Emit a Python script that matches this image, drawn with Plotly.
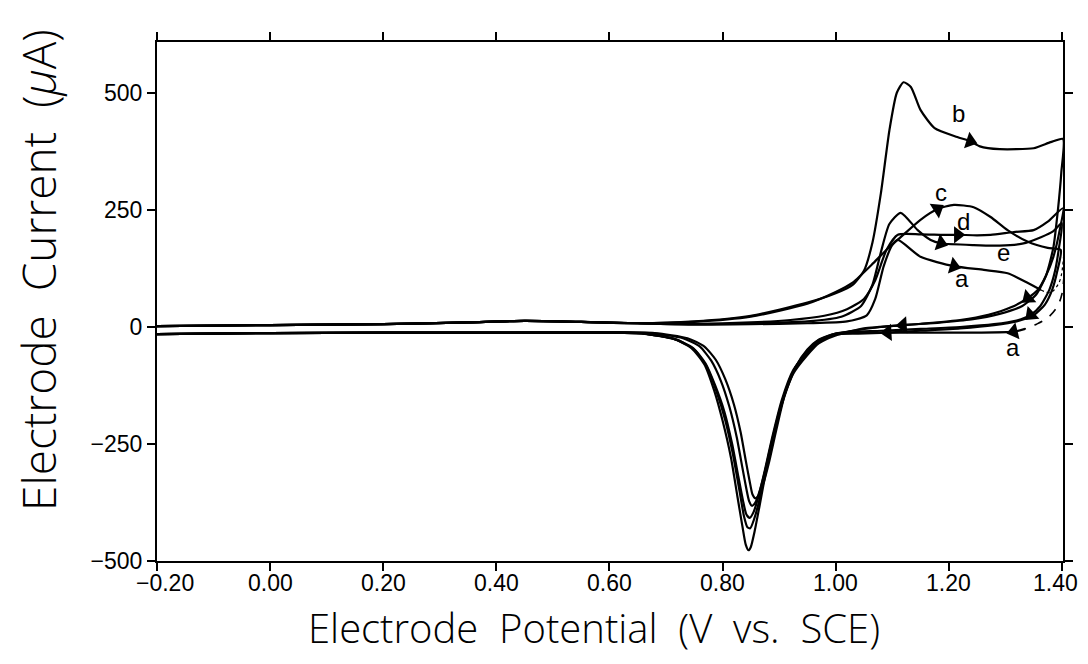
import math
import plotly.graph_objects as go

# ---------------- data ----------------
base_fwd_x = [-0.20, 0.00, 0.20, 0.35, 0.45, 0.55, 0.65]
base_fwd_y = [2, 4, 6, 10, 13, 11, 8]
base_rev_x = [0.40, 0.20, 0.00, -0.20]
base_rev_y = [-12, -12, -13, -15]

# curve b
b_fwd_x = [0.75, 0.85, 0.95, 1.00, 1.03, 1.05, 1.065, 1.08, 1.095, 1.108, 1.12, 1.133, 1.15, 1.175, 1.215, 1.238, 1.255, 1.29, 1.35, 1.38, 1.402]
b_fwd_y = [12, 24, 52, 72, 90, 120, 180, 286, 420, 500, 523, 513, 464, 425, 406, 397, 386, 380, 382, 395, 402]
b_rtop_x = [1.399, 1.393, 1.385, 1.372, 1.355, 1.33, 1.29, 1.24, 1.18, 1.119, 1.05]
b_rtop_y = [330, 250, 170, 110, 70, 45, 28, 16, 9, 4, -3]
b_peak_x = [1.00, 0.97, 0.95, 0.925, 0.905, 0.888, 0.875, 0.865, 0.857, 0.850, 0.846, 0.841, 0.835, 0.826, 0.815, 0.80, 0.785, 0.768, 0.745, 0.713, 0.66, 0.60]
b_peak_y = [-18, -35, -60, -100, -165, -245, -320, -385, -435, -470, -477, -465, -425, -360, -280, -200, -135, -80, -45, -25, -14, -12]

# curve c
c_fwd_x = [0.75, 0.85, 0.95, 1.00, 1.03, 1.067, 1.09, 1.115, 1.15, 1.18, 1.209, 1.244, 1.274, 1.304, 1.34, 1.375, 1.398]
c_fwd_y = [11, 22, 50, 75, 95, 137, 165, 192, 229, 252, 261, 256, 235, 207, 182, 169, 165]
c_rtop_x = [1.392, 1.383, 1.37, 1.35, 1.32, 1.28, 1.22, 1.15, 1.092, 1.04]
c_rtop_y = [120, 80, 48, 25, 12, 4, -3, -8, -12, -14]
c_peak_x = [1.00, 0.97, 0.95, 0.925, 0.905, 0.888, 0.875, 0.865, 0.856, 0.849, 0.844, 0.838, 0.83, 0.818, 0.805, 0.79, 0.772, 0.75, 0.718, 0.66, 0.60]
c_peak_y = [-16, -32, -56, -95, -160, -240, -310, -370, -410, -430, -428, -405, -350, -270, -200, -140, -85, -48, -27, -14, -12]

# curve d
d_fwd_x = [0.75, 0.85, 0.92, 0.98, 1.02, 1.05, 1.07, 1.09, 1.11, 1.15, 1.19, 1.216, 1.25, 1.274, 1.315, 1.35, 1.375, 1.402]
d_fwd_y = [7, 10, 15, 24, 38, 60, 100, 165, 197, 198, 197, 197, 196, 197, 203, 207, 225, 254]
d_rtop_x = [1.395, 1.385, 1.372, 1.358, 1.34, 1.31, 1.27, 1.22, 1.15, 1.08, 1.03]
d_rtop_y = [200, 150, 110, 80, 62, 42, 26, 15, 7, 0, -8]
d_peak_x = [1.00, 0.97, 0.95, 0.925, 0.905, 0.888, 0.875, 0.864, 0.855, 0.848, 0.842, 0.836, 0.828, 0.817, 0.803, 0.787, 0.77, 0.748, 0.716, 0.66, 0.60]
d_peak_y = [-15, -30, -54, -92, -155, -235, -305, -360, -395, -408, -400, -370, -320, -250, -180, -125, -78, -45, -26, -14, -12]

# curve e
e_fwd_x = [0.75, 0.85, 0.95, 1.01, 1.045, 1.065, 1.08, 1.095, 1.115, 1.145, 1.168, 1.186, 1.244, 1.29, 1.33, 1.363, 1.385, 1.40]
e_fwd_y = [6, 8, 12, 22, 45, 90, 160, 220, 244, 207, 186, 179, 175, 174, 178, 192, 205, 222]
e_rtop_x = [1.395, 1.388, 1.378, 1.362, 1.345, 1.32, 1.28, 1.22, 1.15, 1.08, 1.03]
e_rtop_y = [170, 120, 80, 45, 26, 14, 6, 0, -4, -8, -10]
e_peak_x = [1.00, 0.97, 0.95, 0.928, 0.908, 0.892, 0.878, 0.867, 0.858, 0.852, 0.847, 0.842, 0.835, 0.825, 0.812, 0.797, 0.78, 0.76, 0.73, 0.67, 0.60]
e_peak_y = [-14, -28, -50, -88, -150, -225, -295, -345, -375, -382, -372, -345, -300, -235, -170, -115, -72, -42, -24, -13, -11]

# curve a
a_fwd_x = [0.75, 0.85, 0.95, 1.02, 1.055, 1.07, 1.085, 1.10, 1.11, 1.15, 1.209, 1.262, 1.304, 1.34, 1.363]
a_fwd_y = [5, 6, 8, 12, 25, 60, 130, 175, 186, 150, 130, 122, 115, 94, 79]
a_dash1_x = [1.363, 1.38, 1.395, 1.403, 1.405, 1.405]
a_dash1_y = [79, 74, 95, 150, 250, 380]
a_dash2_x = [1.405, 1.40, 1.39, 1.375, 1.355, 1.335]
a_dash2_y = [150, 70, 40, 20, 6, -4]
a_rtop_x = [1.335, 1.315, 1.25, 1.15, 1.05]
a_rtop_y = [-4, -10, -12, -12, -12]
a_peak_x = [1.00, 0.97, 0.95, 0.93, 0.91, 0.895, 0.882, 0.872, 0.864, 0.858, 0.853, 0.848, 0.841, 0.832, 0.82, 0.805, 0.788, 0.768, 0.738, 0.68, 0.60]
a_peak_y = [-14, -27, -48, -84, -145, -220, -290, -335, -360, -366, -358, -330, -285, -225, -165, -112, -70, -42, -24, -13, -11]

# arrow heads: (curve, branch, x of the head point)
arrows = [("b", "fwd", 1.238), ("c", "fwd", 1.18), ("d", "fwd", 1.216),
          ("e", "fwd", 1.186), ("a", "fwd", 1.209),
          ("d", "rtop", 1.34), ("e", "rtop", 1.345), ("b", "rtop", 1.119),
          ("c", "rtop", 1.092), ("a", "rtop", 1.315)]

# curve letter labels (x, y)
labels = [("b", 1.218, 457), ("c", 1.186, 288), ("d", 1.226, 226),
          ("e", 1.297, 160), ("a", 1.223, 103), ("a", 1.313, -43)]

x_ticks = [-0.20, 0.00, 0.20, 0.40, 0.60, 0.80, 1.00, 1.20, 1.40]
x_ticktext = ["\u22120.20", "0.00", "0.20", "0.40", "0.60", "0.80", "1.00", "1.20", "1.40"]
y_ticks = [-500, -250, 0, 250, 500]
y_ticktext = ["\u2212500", "\u2212250", "0", "250", "500"]
x_range = [-0.20, 1.402]
y_range = [-500, 609]

x_title = "Electrode\u00a0\u00a0Potential\u00a0\u00a0(V\u00a0\u00a0vs.\u00a0\u00a0SCE)"
y_title = "Electrode\u00a0\u00a0Current\u00a0\u00a0(<i>\u03bc</i>A)"

# ---------------- figure ----------------
curves = {
    "b": (b_fwd_x, b_fwd_y, b_rtop_x, b_rtop_y, b_peak_x, b_peak_y),
    "c": (c_fwd_x, c_fwd_y, c_rtop_x, c_rtop_y, c_peak_x, c_peak_y),
    "d": (d_fwd_x, d_fwd_y, d_rtop_x, d_rtop_y, d_peak_x, d_peak_y),
    "e": (e_fwd_x, e_fwd_y, e_rtop_x, e_rtop_y, e_peak_x, e_peak_y),
    "a": (a_fwd_x, a_fwd_y, a_rtop_x, a_rtop_y, a_peak_x, a_peak_y),
}

fig = go.Figure()
line_style = dict(color="black", width=2.2, shape="spline", smoothing=0.6)

for name, (fx, fy, rx, ry, px, py) in curves.items():
    if name == "a":
        fig.add_trace(go.Scatter(x=base_fwd_x + fx, y=base_fwd_y + fy, mode="lines",
                                 line=line_style, showlegend=False))
        fig.add_trace(go.Scatter(x=rx + px + base_rev_x, y=ry + py + base_rev_y, mode="lines",
                                 line=line_style, showlegend=False))
    else:
        fig.add_trace(go.Scatter(x=base_fwd_x + fx + rx + px + base_rev_x,
                                 y=base_fwd_y + fy + ry + py + base_rev_y,
                                 mode="lines", line=line_style, showlegend=False))

fig.add_trace(go.Scatter(x=a_dash1_x, y=a_dash1_y, mode="lines",
                         line=dict(color="black", width=1.2, dash="dot", shape="spline"),
                         showlegend=False))
fig.add_trace(go.Scatter(x=a_dash2_x, y=a_dash2_y, mode="lines",
                         line=dict(color="black", width=1.6, dash="dash", shape="spline"),
                         showlegend=False))

# margins (page body adds an 8 px offset)
ML, MR, MT, MB = 149, 17, 34, 95
W, H = 1072, 648
plot_w = W - ML - MR
plot_h = H - MT - MB
sx = plot_w / (x_range[1] - x_range[0])
sy = plot_h / (y_range[1] - y_range[0])

ax_x, ax_y, ax_ang = [], [], []
for name, branch, xh in arrows:
    fx, fy, rx, ry, px, py = curves[name]
    bx, by = (fx, fy) if branch == "fwd" else (rx, ry)
    i = min(range(len(bx)), key=lambda k: abs(bx[k] - xh))
    if i > 0:
        x0, y0 = bx[i - 1], by[i - 1]
    elif branch == "fwd":
        x0, y0 = base_fwd_x[-1], base_fwd_y[-1]
    else:
        x0, y0 = fx[-1], fy[-1]
    ang = math.degrees(math.atan2((bx[i] - x0) * sx, (by[i] - y0) * sy))
    ax_x.append(bx[i])
    ax_y.append(by[i])
    ax_ang.append(ang)

fig.add_trace(go.Scatter(x=ax_x, y=ax_y, mode="markers", showlegend=False,
                         marker=dict(symbol="triangle-up", size=15, angle=ax_ang,
                                     color="black", line=dict(width=0))))

annotations = []
for t, lx, ly in labels:
    annotations.append(dict(x=lx, y=ly, xref="x", yref="y", text=t, showarrow=False,
                            font=dict(family="Liberation Sans, Arial", size=24, color="black")))

# x tick labels (placed just under the axis, end labels nudged inward as in the original)
tick_font = dict(family="Liberation Sans, Arial", size=23, color="black")
for k, (tv, tt) in enumerate(zip(x_ticks, x_ticktext)):
    shift = 8 if k == 0 else (-6 if k == len(x_ticks) - 1 else 0)
    annotations.append(dict(x=tv, y=0, xref="x", yref="paper", text=tt, showarrow=False,
                            xanchor="center", yanchor="middle", xshift=shift, yshift=-22,
                            font=tick_font))

annotations.append(dict(text=x_title, x=(586 - ML) / plot_w, y=-(619 - (H - MB)) / plot_h,
                        xref="paper", yref="paper", showarrow=False, borderpad=0,
                        xanchor="center", yanchor="middle",
                        font=dict(family="Open Sans", size=40, weight=300, color="black")))
annotations.append(dict(text=y_title, x=-(ML - 30) / plot_w, y=(H - MB - 262) / plot_h,
                        xref="paper", yref="paper", showarrow=False, textangle=-90,
                        xanchor="center", yanchor="middle",
                        font=dict(family="Open Sans", size=46, weight=300, color="black")))

fig.update_layout(
    width=W, height=H,
    margin=dict(l=ML, r=MR, t=MT, b=MB),
    paper_bgcolor="white", plot_bgcolor="white",
    annotations=annotations,
    font=dict(color="black"),
)
fig.update_xaxes(range=x_range, tickvals=x_ticks, showticklabels=False, automargin=False,
                 showline=True, linecolor="black", linewidth=2, mirror="ticks",
                 ticks="outside", ticklen=8, tickwidth=1.5, tickcolor="black",
                 showgrid=False, zeroline=False)
fig.update_yaxes(range=y_range, tickvals=y_ticks, ticktext=y_ticktext, automargin=False,
                 showline=True, linecolor="black", linewidth=2, mirror="ticks",
                 ticks="outside", ticklen=8, tickwidth=1.5, tickcolor="black",
                 showgrid=False, zeroline=False,
                 tickfont=dict(family="Liberation Sans, Arial", size=23))

fig.write_html("out.html")
